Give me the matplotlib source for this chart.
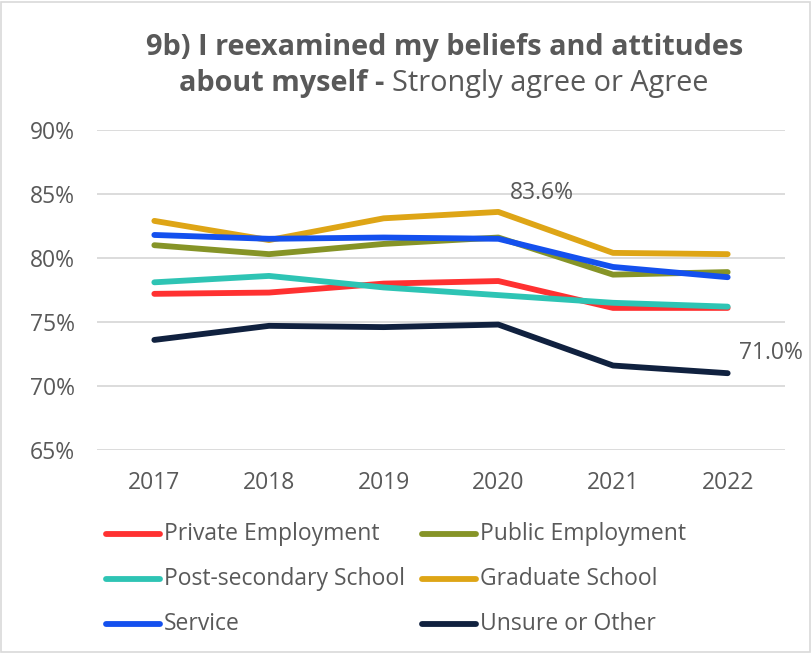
import matplotlib
matplotlib.use("Agg")
import matplotlib.pyplot as plt
from matplotlib.lines import Line2D
from matplotlib.patches import Rectangle

plt.rcParams['font.family'] = ['Open Sans', 'DejaVu Sans']

years = ["2017", "2018", "2019", "2020", "2021", "2022"]
private_emp = [77.2, 77.3, 78.0, 78.2, 76.1, 76.1]
public_emp = [81.0, 80.3, 81.1, 81.6, 78.7, 78.9]
post_secondary = [78.1, 78.6, 77.7, 77.1, 76.5, 76.2]
graduate = [82.9, 81.4, 83.1, 83.6, 80.4, 80.3]
service = [81.8, 81.5, 81.6, 81.5, 79.3, 78.5]
unsure = [73.6, 74.7, 74.6, 74.8, 71.6, 71.0]
yticks = [65, 70, 75, 80, 85, 90]

series = [
    ("Private Employment", private_emp, "#FF3131"),
    ("Public Employment", public_emp, "#869427"),
    ("Post-secondary School", post_secondary, "#2EC4B4"),
    ("Graduate School", graduate, "#DEA516"),
    ("Service", service, "#1450EE"),
    ("Unsure or Other", unsure, "#10213F"),
]
gray = "#595959"
fs = 16.5
tfs = 20.8

W, H = 812, 653
fig = plt.figure(figsize=(W / 100, H / 100), dpi=100)
fig.patches.append(Rectangle((1 / W, 1 / H), 1 - 3 / W, 1 - 3 / H, transform=fig.transFigure,
                             fill=False, edgecolor="#D9D9D9", linewidth=1.2))

ax = fig.add_axes([97 / W, (H - 450) / H, (785 - 97) / W, 320 / H])
x = list(range(len(years)))
for name, vals, col in series:
    ax.plot(x, vals, color=col, linewidth=4.2, solid_capstyle="round", solid_joinstyle="round")

ax.set_xlim(-0.5, 5.5)
ax.set_ylim(65, 90)
ax.set_yticks(yticks)
ax.set_yticklabels([f"{v}%" for v in yticks])
ax.set_xticks(x)
ax.set_xticklabels(years)
ax.tick_params(axis="both", length=0, labelsize=fs, colors=gray)
ax.tick_params(axis="y", pad=16)
ax.tick_params(axis="x", pad=15)
ax.grid(axis="y", color="#D9D9D9", linewidth=1.3)
ax.set_axisbelow(True)
for s in ax.spines.values():
    s.set_visible(False)

ax.annotate(f"{graduate[3]:.1f}%", (3, graduate[3]), xytext=(31, 5), textcoords="offset points",
            ha="center", va="bottom", fontsize=fs, color=gray, annotation_clip=False)
ax.annotate(f"{unsure[5]:.1f}%", (5, unsure[5]), xytext=(8, 6), textcoords="offset points",
            ha="left", va="bottom", fontsize=fs, color=gray, annotation_clip=False)

# Title
fig.text(445 / W, 1 - 47 / H, "9b) I reexamined my beliefs and attitudes", ha="center", va="center",
         fontsize=tfs, fontweight="bold", color=gray)
fig.canvas.draw()
r = fig.canvas.get_renderer()
t1 = fig.text(0, 1 - 83 / H, "about myself - ", ha="left", va="center", fontsize=tfs,
              fontweight="bold", color=gray)
t2 = fig.text(0, 1 - 83 / H, "Strongly agree or Agree", ha="left", va="center", fontsize=tfs,
              fontweight="normal", color=gray)
w1 = t1.get_window_extent(r).width
w2 = t2.get_window_extent(r).width
start = 444 - (w1 + w2) / 2
t1.set_x(start / W)
t2.set_x((start + w1) / W)

# Legend
rows = [534, 579, 624]
cols = [(106, 160), (422, 476)]
for i, (name, vals, col) in enumerate(series):
    c = cols[i % 2]
    yy = 1 - rows[i // 2] / H
    fig.add_artist(Line2D([c[0] / W, c[1] / W], [yy, yy], transform=fig.transFigure, color=col,
                          linewidth=4.2, solid_capstyle="round"))
    fig.text((c[1] + 4) / W, yy, name, ha="left", va="center", fontsize=fs, color=gray)

fig.savefig("out.png", dpi=100)
